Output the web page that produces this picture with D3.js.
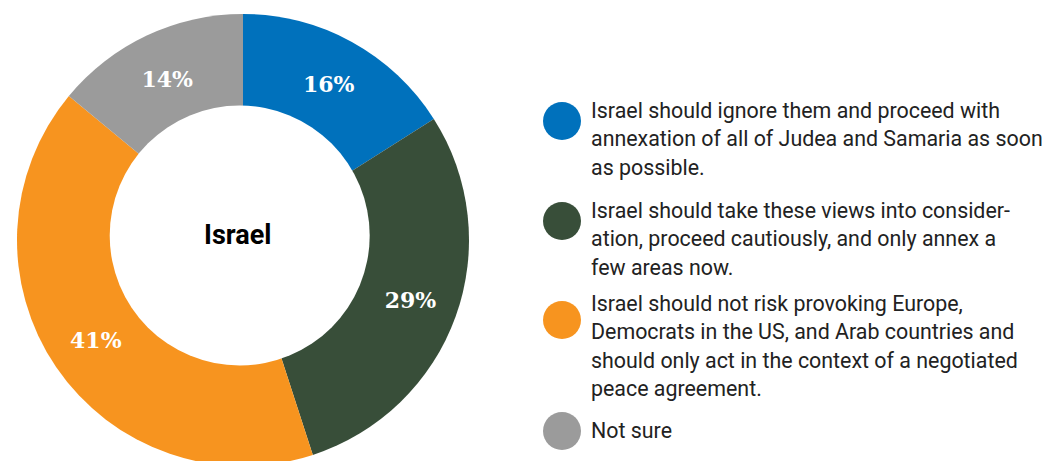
<!DOCTYPE html>
<html>
<head>
<meta charset="utf-8">
<script src="https://cdn.jsdelivr.net/npm/d3@7"></script>
<style>
  html, body { margin: 0; padding: 0; background: #fff; }
  svg { display: block; }
</style>
</head>
<body>
<svg id="chart" width="1049" height="461"></svg>
<script>
// Survey responses (percent), in clockwise order from 12 o'clock
const categories = ["ignore", "consider", "notRisk", "notSure"];
const values = [16, 29, 41, 14];
const colors = ["#0071bc", "#384e39", "#f7941f", "#9b9b9b"];
const centerTitle = "Israel";
const legendLabels = [
  ["Israel should ignore them and proceed with",
   "annexation of all of Judea and Samaria as soon",
   "as possible."],
  ["Israel should take these views into consider-",
   "ation, proceed cautiously, and only annex a",
   "few areas now."],
  ["Israel should not risk provoking Europe,",
   "Democrats in the US, and Arab countries and",
   "should only act in the context of a negotiated",
   "peace agreement."],
  ["Not sure"]
];

const svg = d3.select("#chart");

// Donut geometry
const cx = 243, cy = 240;
const outerR = 226, innerR = 130;
const holeCx = cx - 3.3, holeCy = cy - 4.5;

const pie = d3.pie().sort(null).value(d => d.value).startAngle(0).endAngle(2 * Math.PI);
const arcs = pie(categories.map((c, i) => ({ key: c, value: values[i], color: colors[i] })));

const wedge = d3.arc().innerRadius(0).outerRadius(outerR);
const labelArc = d3.arc().innerRadius(innerR).outerRadius(outerR);

const g = svg.append("g").attr("transform", `translate(${cx},${cy})`);

g.selectAll("path.slice")
  .data(arcs)
  .join("path")
  .attr("class", "slice")
  .attr("d", wedge)
  .attr("fill", d => d.data.color);

// White centre of the ring
svg.append("circle")
  .attr("cx", holeCx)
  .attr("cy", holeCy)
  .attr("r", innerR)
  .attr("fill", "#fff");

// Percentage labels on each slice
g.selectAll("text.pct")
  .data(arcs)
  .join("text")
  .attr("class", "pct")
  .attr("transform", d => `translate(${labelArc.centroid(d)})`)
  .attr("text-anchor", "middle")
  .attr("dy", "0.36em")
  .attr("fill", "#fff")
  .attr("font-family", "'DejaVu Serif', serif")
  .attr("font-weight", "bold")
  .attr("font-size", 22)
  .text(d => d.data.value + "%");

// Centre title
svg.append("text")
  .attr("x", holeCx - 2)
  .attr("y", holeCy)
  .attr("dy", "0.3em")
  .attr("text-anchor", "middle")
  .attr("font-family", "Roboto, sans-serif")
  .attr("font-weight", "bold")
  .attr("font-size", 27)
  .attr("fill", "#000")
  .text(centerTitle);

// Legend: swatch + wrapped description per response
const legendX = 562, textX = 591, circleR = 19;
const lineH = 28.3;
const firstBaselines = [118, 218, 311, 438];
const swatchY = [121, 221, 320, 431];
const legend = svg.append("g");
legendLabels.forEach((lines, i) => {
  const item = legend.append("g");
  item.append("circle")
    .attr("cx", legendX)
    .attr("cy", swatchY[i])
    .attr("r", circleR)
    .attr("fill", colors[i]);
  const t = item.append("text")
    .attr("font-family", "Roboto, sans-serif")
    .attr("font-size", 21.4)
    .attr("fill", "#222");
  lines.forEach((ln, j) => {
    t.append("tspan")
      .attr("x", textX)
      .attr("y", firstBaselines[i] + j * lineH)
      .text(ln);
  });
});
</script>
</body>
</html>
